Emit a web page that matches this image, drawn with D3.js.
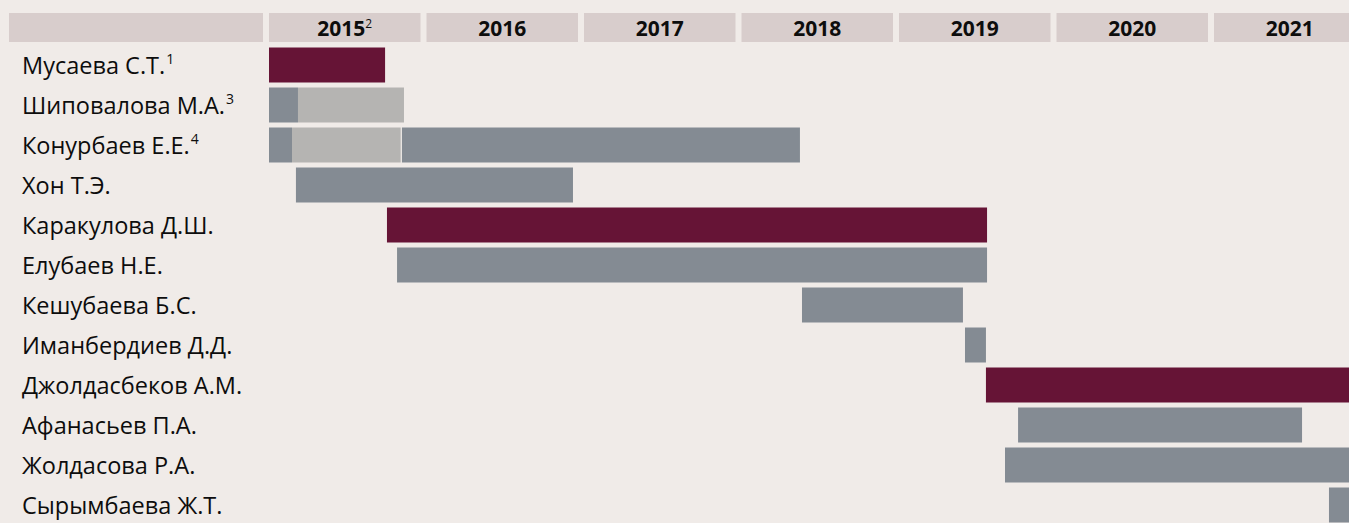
<!DOCTYPE html>
<html>
<head>
<meta charset="utf-8">
<script src="https://cdn.jsdelivr.net/npm/d3@7/dist/d3.min.js"></script>
<style>
    body { margin: 0; background: #f0ebe8; }
    svg { display: block; font-family: "Open Sans", sans-serif; }
</style>
</head>
<body>
<svg id="gantt" width="1349" height="523"></svg>
<script>
const names = [
    "Мусаева С.Т.", "Шиповалова М.А.", "Конурбаев Е.Е.", "Хон Т.Э.",
    "Каракулова Д.Ш.", "Елубаев Н.Е.", "Кешубаева Б.С.", "Иманбердиев Д.Д.",
    "Джолдасбеков А.М.", "Афанасьев П.А.", "Жолдасова Р.А.", "Сырымбаева Ж.Т."
];
const nameNotes = ["1", "3", "4", "", "", "", "", "", "", "", "", ""];
const years = [2015, 2016, 2017, 2018, 2019, 2020, 2021];
const yearNotes = ["2", "", "", "", "", "", ""];

// [row, start, end, kind] in fractional years
const spans = [
    [0, 2015.0, 2015.737, "head"],
    [1, 2015.0, 2015.184, "member"],
    [1, 2015.184, 2015.857, "leave"],
    [2, 2015.0, 2015.146, "member"],
    [2, 2015.146, 2015.836, "leave"],
    [2, 2015.844, 2018.371, "member"],
    [3, 2015.171, 2016.930, "member"],
    [4, 2015.749, 2019.559, "head"],
    [5, 2015.813, 2019.559, "member"],
    [6, 2018.384, 2019.406, "member"],
    [7, 2019.419, 2019.552, "member"],
    [8, 2019.552, 2022.0, "head"],
    [9, 2019.756, 2021.559, "member"],
    [10, 2019.673, 2022.0, "member"],
    [11, 2021.730, 2022.0, "member"]
];

const svg = d3.select("#gantt");
const margin = {top: 13, left: 269, labelLeft: 9, textLeft: 22};
const headerH = 29;
const yearW = 157.5;

const x = d3.scaleLinear()
    .domain([2015, 2022])
    .range([margin.left, margin.left + yearW * 7]);

const y = d3.scaleBand()
    .domain(names)
    .range([45, 525])
    .paddingInner(0.125)
    .paddingOuter(0.0625);

const color = d3.scaleOrdinal()
    .domain(["head", "member", "leave"])
    .range(["#661436", "#848b93", "#b5b4b2"]);

// header row
svg.append("rect")
    .attr("x", margin.labelLeft)
    .attr("y", margin.top)
    .attr("width", margin.left - 6 - margin.labelLeft)
    .attr("height", headerH)
    .attr("fill", "#d8cdcc");

const head = svg.selectAll("g.year")
    .data(years)
    .enter()
    .append("g")
    .attr("class", "year");

head.append("rect")
    .attr("x", d => x(d))
    .attr("y", margin.top)
    .attr("width", d => x(d + 1) - x(d) - 6)
    .attr("height", headerH)
    .attr("fill", "#d8cdcc");

const yearText = head.append("text")
    .attr("x", d => (x(d) + x(d + 1) - 6) / 2)
    .attr("y", margin.top + headerH / 2 + 8)
    .attr("text-anchor", "middle")
    .attr("fill", "#0d0d0d");
yearText.append("tspan")
    .attr("font-size", 21)
    .attr("font-weight", "bold")
    .text(d => d);
yearText.append("tspan")
    .attr("font-size", 12)
    .attr("dy", -8)
    .text((d, i) => yearNotes[i]);

// bars
svg.selectAll("rect.bar")
    .data(spans)
    .enter()
    .append("rect")
    .attr("class", "bar")
    .attr("x", d => x(d[1]))
    .attr("y", d => y(names[d[0]]))
    .attr("width", d => x(d[2]) - x(d[1]))
    .attr("height", y.bandwidth())
    .attr("fill", d => color(d[3]));

// names
const label = svg.selectAll("text.name")
    .data(names)
    .enter()
    .append("text")
    .attr("class", "name")
    .attr("x", margin.textLeft)
    .attr("y", d => y(d) + y.bandwidth() / 2 + 8.5)
    .attr("fill", "#0d0d0d");
label.append("tspan")
    .attr("font-size", 23.5)
    .text(d => d);
label.append("tspan")
    .attr("font-size", 14)
    .attr("dx", 1)
    .attr("dy", -9.5)
    .text((d, i) => nameNotes[i]);
</script>
</body>
</html>
